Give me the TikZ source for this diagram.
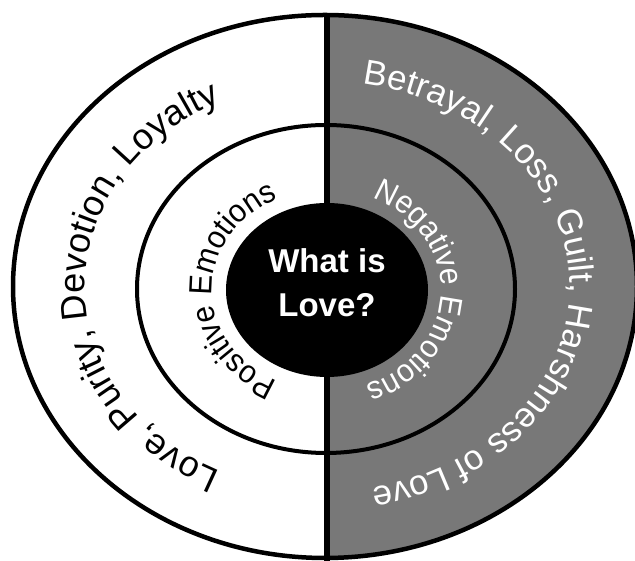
\documentclass[tikz,border=0pt]{standalone}
\usepackage{fontspec}
\setmainfont{Liberation Sans}
\newfontfamily\ringface[FakeStretch=0.94]{Liberation Sans}
\usetikzlibrary{decorations.text,shapes.geometric}
\definecolor{ringgray}{RGB}{120,120,120}
\newcommand\ringbig{\fontsize{36}{36}\selectfont}
\newcommand\ringmid{\fontsize{35}{35}\selectfont}
\newcommand\ringsmall{\ringface\fontsize{32}{32}\selectfont}
\begin{document}
\begin{tikzpicture}[x=1pt,y=1pt,
  ringline/.style={line width=4.5pt},
  midline/.style={line width=4pt},
  splitline/.style={line width=5.5pt},
  corebox/.style={ellipse, fill=black, inner sep=0pt, minimum width=202pt, minimum height=174pt},
  corelabel/.style={text=white, font=\bfseries\fontsize{33}{44}\selectfont, align=center, inner sep=0pt}]
\useasboundingbox (0,0) rectangle (635,561);
\clip (0,0) rectangle (635,561);
\fill[white] (0,0) rectangle (635,561);
\coordinate (oc) at (325,274.5);
\coordinate (mc) at (326,272);
\coordinate (ic) at (327,271);
% outer disc, right half gray
\fill[white] (oc) ellipse[x radius=312pt, y radius=271.5pt];
\begin{scope}
  \clip (327,0) rectangle (640,561);
  \fill[ringgray] (oc) ellipse[x radius=312pt, y radius=271.5pt];
\end{scope}
\draw[midline] (mc) ellipse[x radius=189pt, y radius=164pt];
\draw[ringline] (oc) ellipse[x radius=312pt, y radius=271.5pt];
\coordinate (vtop) at (327,546);
\coordinate (vbot) at (327,0);
\draw[splitline] (vtop) -- (vbot);
\node[corebox] (core) at (ic) {};
\node[corelabel] (question) at (327,278.5) {What is\\Love?};
% curved texts
\path[decorate, decoration={text along path, text align=center,
  text={|\ringbig|Love, Purity, Devotion, Loyalty}}]
  (oc) ++(260:240pt and 205pt) arc[start angle=260, end angle=100, x radius=240pt, y radius=205pt];
\path[decorate, decoration={text along path, text align=center, text color=white,
  text={|\ringmid|Betrayal, Loss, Guilt, Harshness of Love}}]
  (oc) ++(91:245pt and 205pt) arc[start angle=91, end angle=-89, x radius=245pt, y radius=205pt];
\path[decorate, decoration={text along path, text align=center,
  text={|\ringsmall|Positive Emotions}}]
  (ic) ++(250:115pt and 101pt) arc[start angle=250, end angle=110, x radius=115pt, y radius=101pt];
\path[decorate, decoration={text along path, text align=center, text color=white,
  text={|\ringsmall|Negative Emotions}}]
  (ic) ++(88:114pt and 101pt) arc[start angle=88, end angle=-92, x radius=114pt, y radius=101pt];
\end{tikzpicture}
\end{document}
